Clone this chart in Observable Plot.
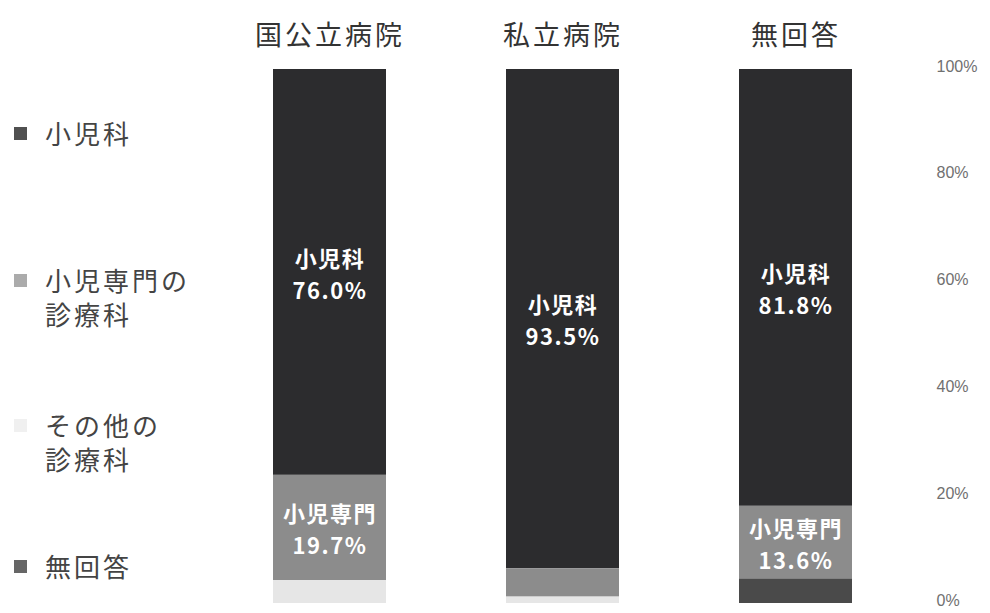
<!DOCTYPE html>
<html>
<head>
<meta charset="utf-8">
<script src="https://cdn.jsdelivr.net/npm/d3@7"></script>
<script src="https://cdn.jsdelivr.net/npm/@observablehq/plot@0.6"></script>
<style>
  html, body { margin: 0; padding: 0; background: #fff; }
  #wrap { position: relative; width: 990px; height: 613px; font-family: "Noto Sans CJK JP", sans-serif; }
  #legend { position: absolute; left: 0; top: 0; width: 240px; height: 613px; }
  .item { position: absolute; left: 0; font-size: 26px; line-height: 34px; color: #444; letter-spacing: 3px; }
  .sw { position: absolute; left: 14px; top: 11px; width: 13px; height: 13px; }
  .lbl { position: absolute; left: 45px; top: 0; white-space: nowrap; }
</style>
</head>
<body>
<div id="wrap">
  <div id="chart"></div>
  <div id="legend"></div>
</div>
<script>
// ---- data ----
const categories = ["国公立病院", "私立病院", "無回答"];
const seriesNames = ["小児科", "小児専門の診療科", "その他の診療科", "無回答"];
const legendLabels = ["小児科", "小児専門の\n診療科", "その他の\n診療科", "無回答"];
const pediatrics = [76.0, 93.5, 81.8];
const pedSpecialty = [19.7, 5.3, 13.6];
const otherDept = [4.3, 1.2, 0];
const noAnswer = [0, 0, 4.6];
const pediatricsLabel = ["小児科", "小児科", "小児科"];
const specialtyLabel = ["小児専門", "", "小児専門"];
const yTicks = [0, 20, 40, 60, 80, 100];

const barColors = ["#2c2c2e", "#8c8c8c", "#e6e6e6", "#4a4a4a"];
const legendColors = ["#505050", "#ababab", "#f0f0f0", "#666666"];

// ---- table ----
const seriesValues = [pediatrics, pedSpecialty, otherDept, noAnswer];
const rows = [];
categories.forEach((c, i) => {
  seriesNames.forEach((s, j) => {
    let text = "";
    if (j === 0) text = pediatricsLabel[i] + "\n" + pediatrics[i].toFixed(1) + "%";
    if (j === 1 && specialtyLabel[i]) text = specialtyLabel[i] + "\n" + pedSpecialty[i].toFixed(1) + "%";
    rows.push({category: c, series: s, value: seriesValues[j][i], text});
  });
});
const stackOrder = ["無回答", "その他の診療科", "小児専門の診療科", "小児科"];

const plot = Plot.plot({
  width: 990,
  height: 613,
  marginLeft: 272,
  marginRight: 60,
  marginTop: 70,
  marginBottom: 10,
  style: {fontFamily: "'Noto Sans CJK JP', sans-serif", background: "#fff"},
  x: {domain: categories, range: [272, 853], paddingInner: 0.517, paddingOuter: 0, axis: null},
  y: {domain: [0, 100], range: [603, 69], axis: null},
  color: {domain: seriesNames, range: barColors},
  marks: [
    Plot.barY(rows, Plot.stackY({x: "category", y: "value", fill: "series", order: stackOrder})),
    Plot.text(rows, Plot.stackY({
      x: "category", y: "value", z: "series", order: stackOrder,
      text: "text", fill: "#fff", fontSize: 22, fontWeight: "bold", lineHeight: 1.45
    })),
    Plot.axisX({anchor: "top", tickSize: 0, tickPadding: 26, fontSize: 27, fill: "#333", label: null}),
    Plot.axisY({anchor: "right", ticks: yTicks, tickFormat: d => d + "%", tickSize: 0, tickPadding: 6, dy: -3,
      fontSize: 16, fill: "#707070", label: null, fontFamily: "'Liberation Sans', sans-serif"})
  ]
});
document.getElementById("chart").appendChild(plot);
d3.select(plot).selectAll('g[aria-label="x-axis tick label"] text').attr("letter-spacing", "3px");
d3.select(plot).selectAll('g[aria-label="text"] text').attr("letter-spacing", "1.5px");

// ---- legend ----
const legendTops = [116, 263, 408, 549];
const legend = document.getElementById("legend");
seriesNames.forEach((s, i) => {
  const item = document.createElement("div");
  item.className = "item";
  item.style.top = legendTops[i] + "px";
  const sw = document.createElement("div");
  sw.className = "sw";
  sw.style.background = legendColors[i];
  const lbl = document.createElement("div");
  lbl.className = "lbl";
  lbl.innerHTML = legendLabels[i].replace("\n", "<br>");
  item.appendChild(sw);
  item.appendChild(lbl);
  legend.appendChild(item);
});
</script>
</body>
</html>
